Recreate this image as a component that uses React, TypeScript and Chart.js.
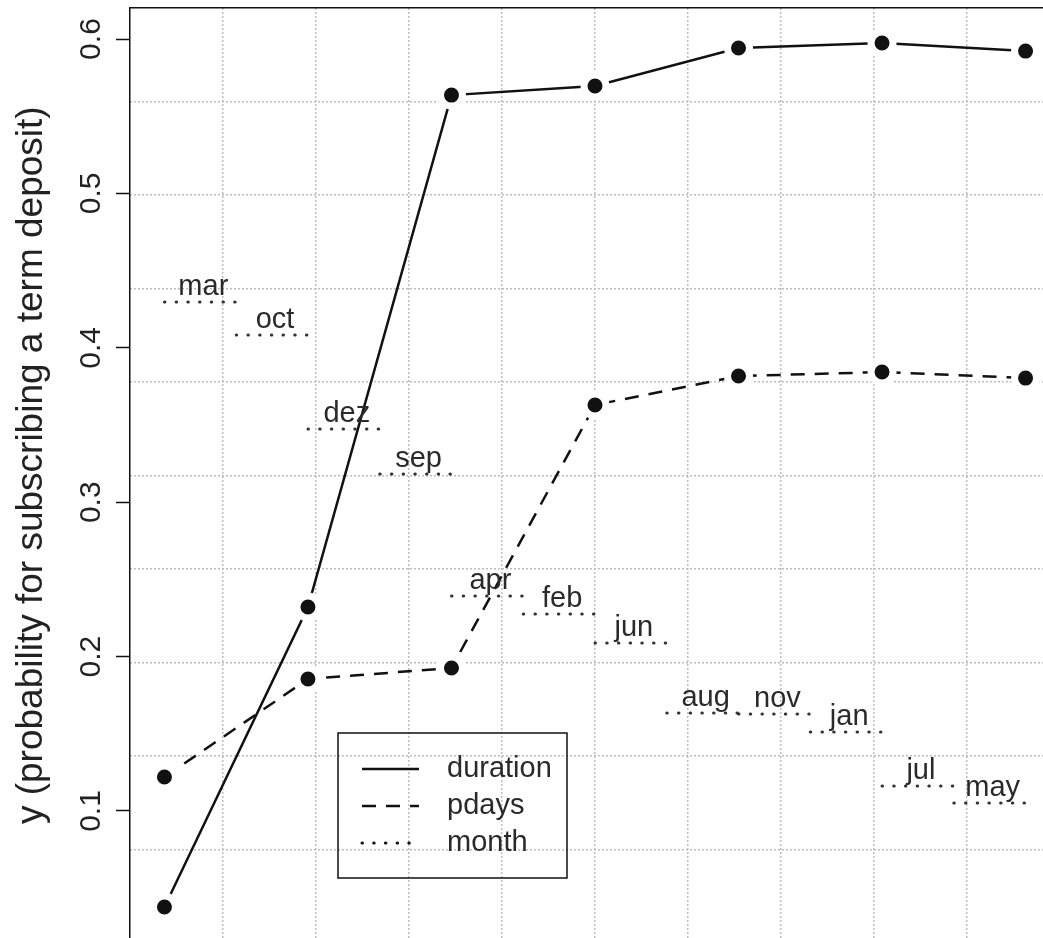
import React, { useEffect, useRef } from 'react';
import { Chart, registerables } from 'chart.js';

Chart.register(...registerables);

// ---------- data ----------
const xPositions = [0, 2, 4, 6, 8, 10, 12];
const durationValues = [0.0378, 0.2321, 0.5637, 0.5696, 0.5942, 0.5974, 0.5922];
const pdaysValues = [0.122, 0.1855, 0.1926, 0.363, 0.3817, 0.3843, 0.3804];
const monthLabels = ['mar', 'oct', 'dez', 'sep', 'apr', 'feb', 'jun', 'aug', 'nov', 'jan', 'jul', 'may'];
const monthValues = [0.4297, 0.4083, 0.3474, 0.3183, 0.2393, 0.2276, 0.2088, 0.1635, 0.1628, 0.1512, 0.1162, 0.1052];
const yTickValues = [0.1, 0.2, 0.3, 0.4, 0.5, 0.6];
const seriesNames = ['duration', 'pdays', 'month'];
const yTitle = '  y (probability for subscribing a term deposit)';

const X_MIN = -0.48;
const X_MAX = 12.48;
const Y_MIN = 0.0145;
const Y_MAX = 0.6201;
const GRID_DIVISIONS = 10;

const FONT = "'Liberation Sans', Arial, Helvetica, sans-serif";
const GRID_COLOR = '#bdbdbd';

const gridValues = (min: number, max: number) =>
  Array.from({ length: GRID_DIVISIONS - 1 }, (_, k) => min + ((k + 1) * (max - min)) / GRID_DIVISIONS);

const monthData: { x: number; y: number | null }[] = [];
monthValues.forEach((v, i) => {
  monthData.push({ x: i, y: v });
  monthData.push({ x: i + 1, y: v });
  monthData.push({ x: i + 1, y: null });
});

const monthLabelPlugin = {
  id: 'monthLabels',
  afterDatasetsDraw(chart: any) {
    const { ctx } = chart;
    const xs = chart.scales.x;
    const ys = chart.scales.y;
    ctx.save();
    ctx.font = `29px ${FONT}`;
    ctx.fillStyle = '#2a2a2a';
    ctx.textAlign = 'center';
    ctx.textBaseline = 'alphabetic';
    monthLabels.forEach((m, i) => {
      ctx.fillText(m, xs.getPixelForValue(i + 0.5) + 3, ys.getPixelForValue(monthValues[i]) - 7);
    });
    ctx.restore();
  },
};

const boxLegendPlugin = {
  id: 'boxLegend',
  afterDraw(chart: any) {
    const { ctx, chartArea } = chart;
    const bx = chartArea.left + 208;
    const by = chartArea.top + 725;
    const bw = 229;
    const bh = 145;
    ctx.save();
    ctx.strokeStyle = '#111';
    ctx.lineWidth = 1.5;
    ctx.strokeRect(bx, by, bw, bh);
    ctx.font = `29px ${FONT}`;
    ctx.textBaseline = 'middle';
    ctx.textAlign = 'left';
    chart.data.datasets.forEach((ds: any, i: number) => {
      const y = by + 36 + i * 37;
      ctx.save();
      ctx.strokeStyle = '#111';
      ctx.lineWidth = ds.borderWidth;
      ctx.lineCap = ds.borderCapStyle || 'butt';
      ctx.setLineDash(ds.borderDash || []);
      ctx.beginPath();
      ctx.moveTo(bx + 24, y);
      ctx.lineTo(bx + 81, y);
      ctx.stroke();
      ctx.restore();
      ctx.fillStyle = '#2a2a2a';
      ctx.fillText(ds.label, bx + 109, y);
    });
    ctx.restore();
  },
};

export default function App() {
  const canvasRef = useRef<HTMLCanvasElement | null>(null);

  useEffect(() => {
    if (!canvasRef.current) return;
    Chart.defaults.font.family = FONT;
    const pointStyle = {
      pointRadius: 11,
      pointHoverRadius: 11,
      pointBorderWidth: 7,
      pointHoverBorderWidth: 7,
      pointBackgroundColor: '#111',
      pointBorderColor: '#ffffff',
    };
    const chart = new Chart(canvasRef.current, {
      type: 'line',
      data: {
        datasets: [
          {
            label: seriesNames[0],
            data: xPositions.map((x, i) => ({ x, y: durationValues[i] })),
            borderColor: '#111',
            borderWidth: 2.5,
            borderDash: [],
            ...pointStyle,
          },
          {
            label: seriesNames[1],
            data: xPositions.map((x, i) => ({ x, y: pdaysValues[i] })),
            borderColor: '#111',
            borderWidth: 2.5,
            borderDash: [14, 10],
            ...pointStyle,
          },
          {
            label: seriesNames[2],
            data: monthData,
            borderColor: '#333',
            borderWidth: 3,
            borderDash: [0.5, 11.2],
            borderCapStyle: 'round',
            pointRadius: 0,
            pointHoverRadius: 0,
            spanGaps: false,
          },
        ],
      },
      options: {
        animation: false,
        responsive: true,
        maintainAspectRatio: false,
        events: [],
        layout: { autoPadding: false, padding: { left: 0, top: 8, right: 20, bottom: 17 } },
        plugins: { legend: { display: false }, tooltip: { enabled: false } },
        scales: {
          x: {
            type: 'linear',
            position: 'bottom',
            min: X_MIN,
            max: X_MAX,
            afterBuildTicks: (s: any) => {
              s.ticks = gridValues(X_MIN, X_MAX).map((v) => ({ value: v }));
            },
            afterFit: (s: any) => {
              s.height = 0;
              s.paddingLeft = 0;
              s.paddingRight = 0;
            },
            ticks: { display: false },
            grid: { color: GRID_COLOR, lineWidth: 1.5, drawTicks: false },
            border: { display: false, dash: [2, 2] },
          },
          xTop: {
            type: 'linear',
            position: 'top',
            min: X_MIN,
            max: X_MAX,
            afterFit: (s: any) => {
              s.height = 0;
              s.paddingLeft = 0;
              s.paddingRight = 0;
            },
            ticks: { display: false },
            grid: { display: false, drawTicks: false },
            border: { display: true, color: '#111', width: 1.5 },
          },
          y: {
            type: 'linear',
            position: 'left',
            min: Y_MIN,
            max: Y_MAX,
            afterBuildTicks: (s: any) => {
              s.ticks = yTickValues.map((v) => ({ value: v }));
            },
            afterFit: (s: any) => {
              s.width = 130;
              s.paddingTop = 0;
              s.paddingBottom = 0;
            },
            ticks: {
              callback: (v: any) => Number(v).toFixed(1),
              minRotation: 90,
              maxRotation: 90,
              crossAlign: 'center',
              padding: 3,
              color: '#222',
              font: { size: 30 },
              autoSkip: false,
            },
            grid: {
              drawOnChartArea: false,
              drawTicks: true,
              tickLength: 14,
              tickColor: '#111',
              tickWidth: 1.5,
            },
            border: { display: true, color: '#111', width: 1.5 },
            title: {
              display: true,
              text: yTitle,
              color: '#222',
              font: { size: 37, lineHeight: 1.2 },
              padding: { top: 10, bottom: 0 },
            },
          },
          yGrid: {
            type: 'linear',
            position: 'right',
            min: Y_MIN,
            max: Y_MAX,
            afterBuildTicks: (s: any) => {
              s.ticks = gridValues(Y_MIN, Y_MAX).map((v) => ({ value: v }));
            },
            afterFit: (s: any) => {
              s.width = 0;
              s.paddingTop = 0;
              s.paddingBottom = 0;
            },
            ticks: { display: false },
            grid: { color: GRID_COLOR, lineWidth: 1.5, drawTicks: false },
            border: { display: false, dash: [2, 2] },
          },
        },
      } as any,
      plugins: [monthLabelPlugin, boxLegendPlugin],
    });
    return () => chart.destroy();
  }, []);

  return (
    <div
      style={{
        position: 'fixed',
        left: 0,
        top: 0,
        width: 1043,
        height: 938,
        overflow: 'hidden',
        background: '#fff',
      }}
    >
      <div style={{ position: 'relative', width: 1080, height: 960 }}>
        <canvas ref={canvasRef} />
      </div>
    </div>
  );
}
